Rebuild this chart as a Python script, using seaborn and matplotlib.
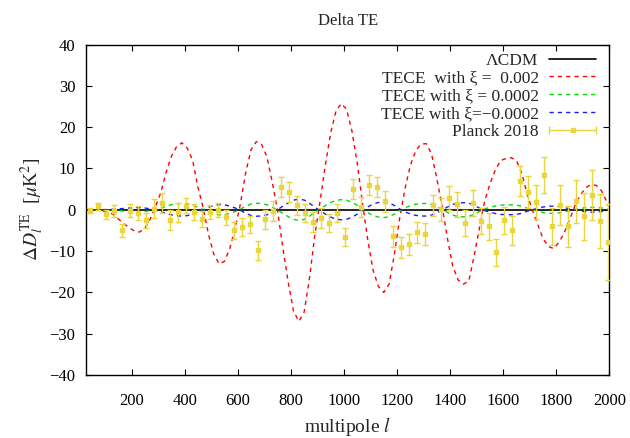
import numpy as np
import matplotlib
matplotlib.use("Agg")
import matplotlib.pyplot as plt
import seaborn as sns
from matplotlib.lines import Line2D
from matplotlib.legend_handler import HandlerLine2D

l_curve = np.arange(30, 2011, 20)
lcdm_delta = [0.0] * len(l_curve)
tece_p002 = [0.0, -0.05, -0.15, -0.3, -0.6, -1.05, -2.2, -3.3, -4.3, -5.1,
             -5.4, -4.5, -2.3, 0.7, 4.1, 9.0, 12.9, 15.3, 16.2, 14.9,
             12.0, 5.5, 0.4, -6.0, -10.8, -13.1, -12.5, -9.4, -4.6, 1.4,
             9.0, 14.5, 16.5, 15.8, 12.8, 6.7, -0.2, -9.2, -17.5, -24.5,
             -27.0, -24.8, -16.7, -6.3, 2.0, 10.8, 18.6, 23.9, 25.7, 24.3,
             19.1, 11.3, 1.6, -7.4, -14.7, -18.6, -20.0, -18.0, -10.8, -2.0,
             5.1, 10.7, 14.2, 15.9, 16.0, 13.5, 7.5, 0.8, -7.0, -13.7,
             -17.0, -18.0, -17.3, -11.3, -4.5, 2.1, 6.3, 9.6, 11.9, 12.4,
             12.6, 11.9, 8.8, 3.8, -0.2, -3.6, -7.0, -8.9, -9.4, -7.9,
             -5.5, -2.4, 1.0, 3.5, 5.3, 6.1, 5.9, 4.6, 1.9, -1.0]
tece_p0002 = [0.0, 0.0, -0.01, -0.03, -0.06, -0.1, -0.21, -0.31, -0.41, -0.48,
              -0.51, -0.43, -0.22, 0.07, 0.39, 0.86, 1.23, 1.45, 1.54, 1.42,
              1.14, 0.52, 0.04, -0.57, -1.03, -1.24, -1.19, -0.89, -0.44, 0.13,
              0.86, 1.38, 1.57, 1.5, 1.22, 0.64, -0.02, -0.87, -1.66, -2.33,
              -2.57, -2.36, -1.59, -0.6, 0.19, 1.03, 1.77, 2.27, 2.44, 2.31,
              1.81, 1.07, 0.15, -0.7, -1.4, -1.77, -1.9, -1.71, -1.03, -0.19,
              0.48, 1.02, 1.35, 1.51, 1.52, 1.28, 0.71, 0.08, -0.67, -1.3,
              -1.62, -1.71, -1.64, -1.07, -0.43, 0.2, 0.6, 0.91, 1.13, 1.18,
              1.2, 1.13, 0.84, 0.36, -0.02, -0.34, -0.67, -0.85, -0.89, -0.75,
              -0.52, -0.23, 0.1, 0.33, 0.5, 0.58, 0.56, 0.44, 0.18, -0.1]
tece_m0002 = [0.0, 0.0, 0.01, 0.03, 0.06, 0.1, 0.21, 0.31, 0.41, 0.48,
              0.51, 0.43, 0.22, -0.07, -0.39, -0.86, -1.23, -1.45, -1.54, -1.42,
              -1.14, -0.52, -0.04, 0.57, 1.03, 1.24, 1.19, 0.89, 0.44, -0.13,
              -0.86, -1.38, -1.57, -1.5, -1.22, -0.64, 0.02, 0.87, 1.66, 2.33,
              2.57, 2.36, 1.59, 0.6, -0.19, -1.03, -1.77, -2.27, -2.44, -2.31,
              -1.81, -1.07, -0.15, 0.7, 1.4, 1.77, 1.9, 1.71, 1.03, 0.19,
              -0.48, -1.02, -1.35, -1.51, -1.52, -1.28, -0.71, -0.08, 0.67, 1.3,
              1.62, 1.71, 1.64, 1.07, 0.43, -0.2, -0.6, -0.91, -1.13, -1.18,
              -1.2, -1.13, -0.84, -0.36, 0.02, 0.34, 0.67, 0.85, 0.89, 0.75,
              0.52, 0.23, -0.1, -0.33, -0.5, -0.58, -0.56, -0.44, -0.18, 0.1]

# Planck 2018 binned TE residuals (bins of 30)
l_planck = np.arange(44.5, 2000, 30)
dte_planck = [-0.2, 0.8, -1.05, -0.2, -5.0, -0.2, -0.8, -2.6, 0.2, 1.6, -2.5, -0.65, 1.0,
              -0.65, -2.3, -0.55, -0.15, -1.8, -5.0, -4.2, -3.5, -9.8, -2.3, -0.3, 5.5, 4.3,
              1.05, -0.8, -3.0, -2.0, -3.2, -0.75, -6.6, 5.0, 0.65, 5.9, 5.5, 2.0, -6.4,
              -9.1, -8.3, -5.5, -5.9, 1.05, 0.1, 2.8, 1.3, -3.2, 1.6, -2.75, -4.0, -10.3,
              -2.6, -5.0, 7.0, 4.3, 1.9, 8.4, -4.0, 1.05, -4.0, 2.0, -1.6, 3.6, -2.8, -7.85]
err_planck = [0.7, 0.85, 1.1, 1.45, 1.5, 1.5, 1.6, 1.9, 2.3, 2.4, 2.4, 2.2, 1.8,
              1.95, 1.95, 1.8, 1.7, 1.8, 2.0, 2.1, 2.1, 2.3, 2.35, 2.4, 2.4, 2.4,
              2.35, 2.25, 2.35, 2.35, 2.25, 2.2, 2.2, 2.35, 2.4, 2.4, 2.4, 2.45, 2.55,
              2.6, 2.55, 2.5, 2.6, 2.6, 2.8, 2.9, 3.0, 3.1, 3.1, 3.2, 3.2, 3.25,
              3.25, 3.5, 3.55, 3.85, 4.2, 4.4, 4.45, 4.85, 5.0, 5.3, 5.6, 6.0, 6.5, 9.2]

labels = ["ΛCDM", "TECE  with ξ =  0.002", "TECE with ξ = 0.0002",
          "TECE with ξ=−0.0002", "Planck 2018"]

sns.set_theme(style="ticks")
plt.rcParams["font.family"] = ["Liberation Serif", "DejaVu Serif"]
plt.rcParams["mathtext.fontset"] = "stix"
plt.rcParams["axes.unicode_minus"] = True

yellow = "#ead63c"
dash = (0, (3, 3))

fig = plt.figure(figsize=(6.3, 4.38), dpi=100)
ax = fig.add_axes([0.1371, 0.1438, 0.8303, 0.7546])

sns.lineplot(x=l_curve, y=lcdm_delta, color="black", lw=1.2, ax=ax, label=labels[0])
sns.lineplot(x=l_curve, y=tece_p002, color="#ff0000", lw=1.0, linestyle=dash, ax=ax, label=labels[1])
sns.lineplot(x=l_curve, y=tece_p0002, color="#00dd00", lw=1.0, linestyle=dash, ax=ax, label=labels[2])
sns.lineplot(x=l_curve, y=tece_m0002, color="#1a1aff", lw=1.0, linestyle=dash, ax=ax, label=labels[3])
ax.errorbar(l_planck, dte_planck, yerr=err_planck, fmt="s", ms=3.2, color=yellow,
            ecolor=yellow, elinewidth=1.0, capsize=2.2, capthick=1.0, zorder=5)

ax.set_xlim(30, 2000)
ax.set_ylim(-40, 40)
ax.set_xticks(np.arange(200, 2001, 200))
ax.set_yticks(np.arange(-40, 41, 10))
ax.tick_params(direction="in", top=True, right=True, length=4.5, width=0.8,
               labelsize=12, colors="black")
ax.tick_params(axis="y", pad=8)
ax.tick_params(axis="x", pad=13)
for s in ax.spines.values():
    s.set_linewidth(1.0)
    s.set_color("black")

ax.set_title("Delta TE", fontsize=12, pad=14)
ax.set_xlabel("multipole $l$", fontsize=14, labelpad=4)
ax.set_ylabel(r"$\Delta D_l^{\rm TE}$  [$\mu$K$^2$]", fontsize=14, labelpad=2)

# legend: text right aligned, samples on the right like gnuplot
caps = Line2D([], [], color=yellow, lw=1.0, marker="|", ms=6, mew=1.0)
sq = Line2D([], [], color=yellow, ls="none", marker="s", ms=3.2)
h, _ = ax.get_legend_handles_labels()
handles = h[:4] + [(caps, sq)]
ax.legend(handles, labels, loc="upper right", bbox_to_anchor=(1 - 13.5 / 523, 1 - 8 / 330),
          frameon=False, markerfirst=False, fontsize=12.5, handlelength=2.7,
          handletextpad=0.6, labelspacing=0.1, borderpad=0, borderaxespad=0,
          handler_map={caps: HandlerLine2D(numpoints=2, marker_pad=0),
                       sq: HandlerLine2D(numpoints=1)})

fig.savefig("out.png", dpi=100)
